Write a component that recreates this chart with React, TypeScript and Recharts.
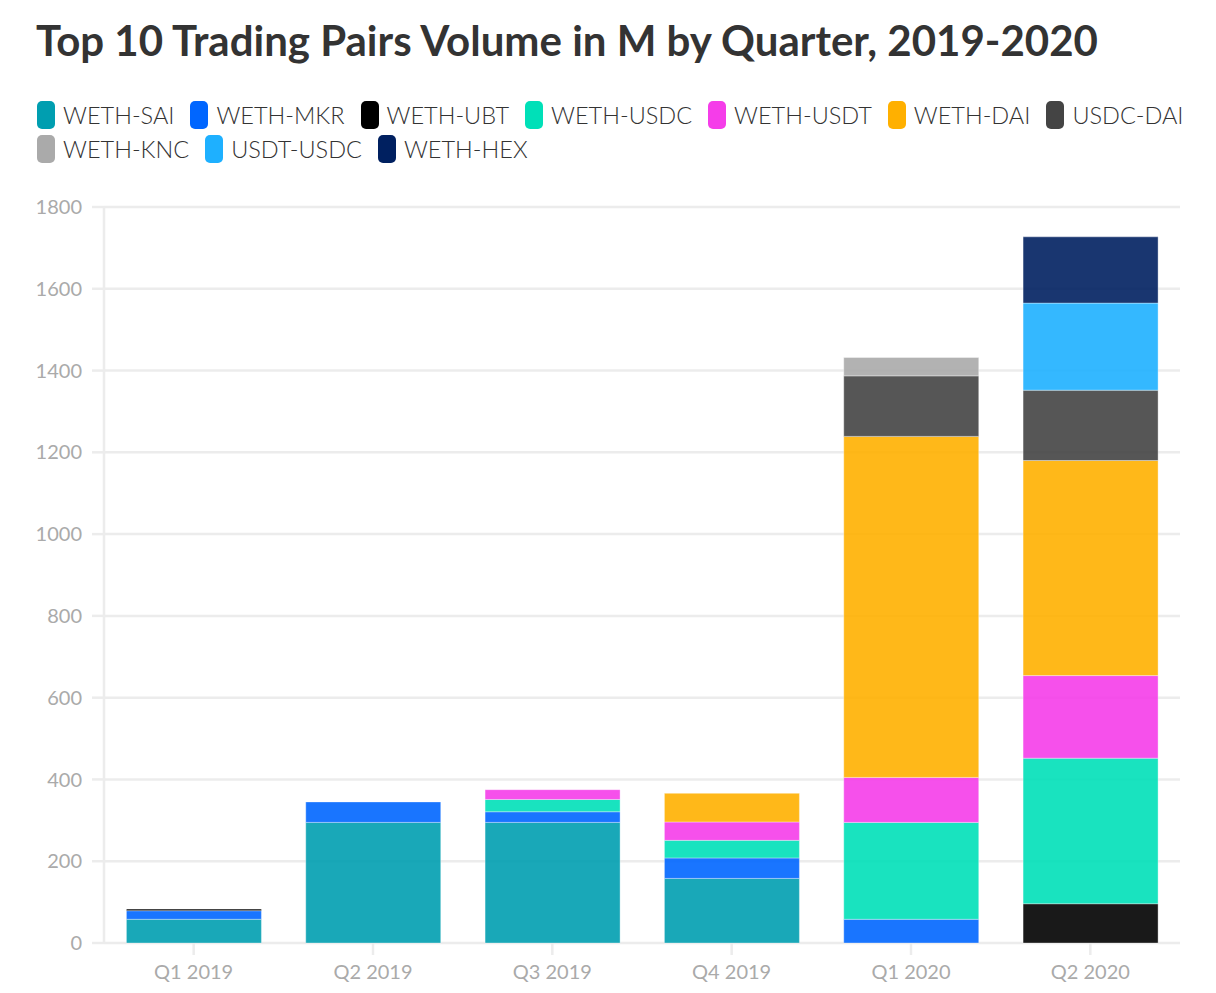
import { BarChart, Bar, XAxis, YAxis, CartesianGrid } from "recharts";

const quarters = ["Q1 2019", "Q2 2019", "Q3 2019", "Q4 2019", "Q1 2020", "Q2 2020"];

const pairs = [
  "WETH-SAI",
  "WETH-MKR",
  "WETH-UBT",
  "WETH-USDC",
  "WETH-USDT",
  "WETH-DAI",
  "USDC-DAI",
  "WETH-KNC",
  "USDT-USDC",
  "WETH-HEX",
];

const colors = [
  "#009eb0",
  "#0066ff",
  "#000000",
  "#00e0b8",
  "#f53de9",
  "#ffb000",
  "#444444",
  "#aaaaaa",
  "#1eb0ff",
  "#002060",
];

// volume in M, one array per pair, indexed by quarter
const wethSai = [58, 295, 295, 158, 0, 0];
const wethMkr = [21, 50, 26, 50, 58, 0];
const wethUbt = [4, 0, 0, 0, 0, 96];
const wethUsdc = [0, 0, 30, 43, 237, 356];
const wethUsdt = [0, 0, 24, 45, 110, 202];
const wethDai = [0, 0, 0, 70, 834, 526];
const usdcDai = [0, 0, 0, 0, 148, 172];
const wethKnc = [0, 0, 0, 0, 45, 0];
const usdtUsdc = [0, 0, 0, 0, 0, 213];
const wethHex = [0, 0, 0, 0, 0, 162];

const yTicks = [0, 200, 400, 600, 800, 1000, 1200, 1400, 1600, 1800];

const seriesValues = [
  wethSai,
  wethMkr,
  wethUbt,
  wethUsdc,
  wethUsdt,
  wethDai,
  usdcDai,
  wethKnc,
  usdtUsdc,
  wethHex,
];

const data = quarters.map((q, i) => {
  const row: Record<string, string | number> = { quarter: q };
  pairs.forEach((p, j) => {
    row[p] = seriesValues[j][i];
  });
  return row;
});

const FONT = "Lato, 'Open Sans', sans-serif";

export default function App() {
  return (
    <div
      style={{
        position: "absolute",
        left: 0,
        top: 0,
        width: 1216,
        height: 993,
        background: "#fff",
        fontFamily: FONT,
        overflow: "hidden",
      }}
    >
      <div
        style={{
          position: "absolute",
          left: 36,
          top: 15,
          fontSize: 42,
          fontWeight: 700,
          color: "#333",
          whiteSpace: "nowrap",
        }}
      >
        Top 10 Trading Pairs Volume in M by Quarter, 2019-2020
      </div>

      {/* legend */}
      <div
        style={{
          position: "absolute",
          left: 37,
          top: 100,
          width: 1160,
          display: "flex",
          flexWrap: "wrap",
          columnGap: 16,
          rowGap: 4,
        }}
      >
        {pairs.map((p, i) => (
          <div key={p} style={{ display: "flex", alignItems: "center", height: 30 }}>
            <span
              style={{
                display: "inline-block",
                width: 18,
                height: 28,
                borderRadius: 5,
                background: colors[i],
                marginRight: 8,
              }}
            />
            <span style={{ fontSize: 23.5, color: "#333", fontWeight: 300 }}>{p}</span>
          </div>
        ))}
      </div>

      <div style={{ position: "absolute", left: 0, top: 0 }}>
        <BarChart
          width={1216}
          height={993}
          data={data}
          margin={{ top: 207, right: 36, bottom: 0, left: 0 }}
          barCategoryGap="12.5%"
        >
          <CartesianGrid vertical={false} stroke="#ececec" strokeWidth={2.5} />
          <XAxis
            dataKey="quarter"
            height={50}
            axisLine={false}
            tickLine={{ stroke: "#ececec", strokeWidth: 2.5 }}
            tickSize={12}
            tickMargin={10}
            tick={{ fontSize: 20, fill: "#aaa", fontFamily: FONT }}
          />
          <YAxis
            width={104}
            domain={[0, 1800]}
            ticks={yTicks}
            interval={0}
            axisLine={{ stroke: "#ececec", strokeWidth: 2.5 }}
            tickLine={{ stroke: "#ececec", strokeWidth: 2.5 }}
            tickSize={12}
            tickMargin={10}
            tick={{ fontSize: 20, fill: "#aaa", fontFamily: FONT }}
          />
          {pairs.map((p, i) => (
            <Bar
              key={p}
              dataKey={p}
              stackId="a"
              fill={colors[i]}
              fillOpacity={0.9}
              stroke="rgba(255,255,255,0.35)"
              strokeWidth={1}
              isAnimationActive={false}
            />
          ))}
        </BarChart>
      </div>
    </div>
  );
}
